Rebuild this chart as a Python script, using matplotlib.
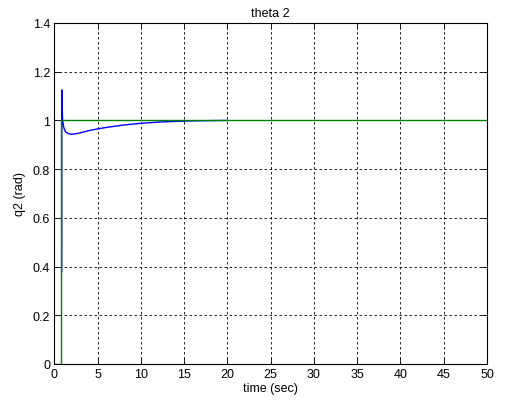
import matplotlib

matplotlib.use("Agg")
import matplotlib.pyplot as plt

# reference step (green) and joint response (blue)
ref_t = [0, 0.75, 0.75, 50]
ref_q2 = [0, 0, 1, 1]

resp_t = [0.86, 0.87, 0.9, 0.95, 1.0, 1.1, 1.3, 1.6, 2.0, 2.5, 3.0, 4.0, 5.0,
          6.0, 8.0, 10.0, 12.0, 14.0, 16.0, 18.0, 20.0]
resp_q2 = [0.38, 1.125, 1.075, 1.01, 0.99, 0.97, 0.953, 0.946, 0.943, 0.945,
           0.949, 0.958, 0.965, 0.971, 0.981, 0.988, 0.993, 0.996, 0.998, 0.999, 1.0]

plt.rcParams["font.family"] = ["Liberation Sans", "DejaVu Sans"]
plt.rcParams["font.size"] = 9

fig = plt.figure(figsize=(5.24, 4.06), dpi=100)
ax = fig.add_axes([0.1036, 0.101, 0.8258, 0.840])

ax.plot(resp_t, resp_q2, color="#0000ff", lw=1.0)
ax.plot(ref_t, ref_q2, color="#008000", lw=1.0)

ax.set_xlim(0, 50)
ax.set_ylim(0, 1.4)
ax.set_xticks(range(0, 51, 5))
ax.set_yticks([0, 0.2, 0.4, 0.6, 0.8, 1, 1.2, 1.4])
ax.set_yticklabels(["0", "0.2", "0.4", "0.6", "0.8", "1", "1.2", "1.4"])
ax.grid(True, color="black", linestyle=(0, (3, 3)), linewidth=0.6)
ax.tick_params(direction="in", length=4, top=True, right=True, width=0.6, pad=3)
for spine in ax.spines.values():
    spine.set_linewidth(0.8)

ax.set_xlabel("time (sec)", labelpad=1)
ax.set_ylabel("q2 (rad)", labelpad=5)
ax.set_title("theta 2", fontsize=9, pad=5)

fig.savefig("out.png", dpi=100)
plt.close(fig)
